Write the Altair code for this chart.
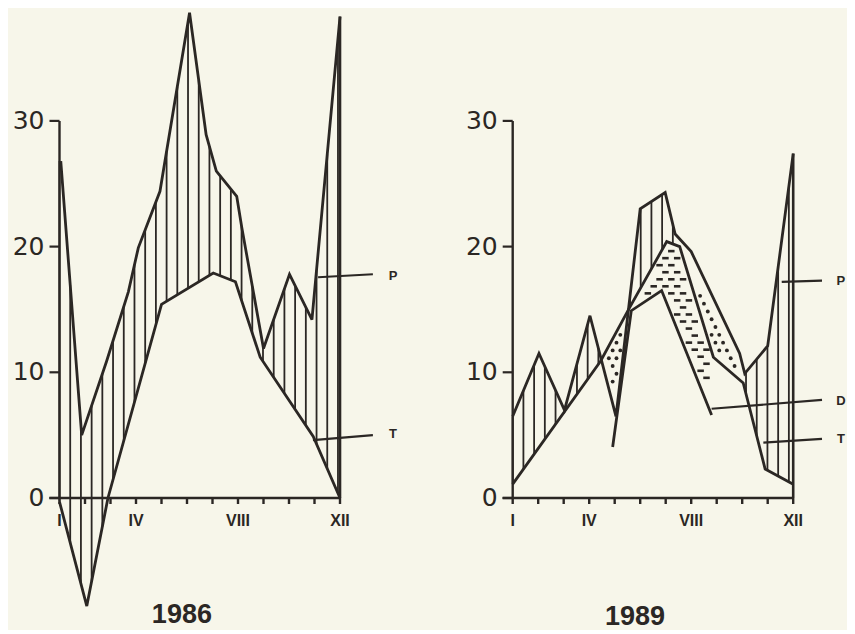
import altair as alt
import numpy as np
import pandas as pd

# ---------------- data ----------------
MONTHS = list(range(1, 13))
MONTH_TEXT = ["I", "IV", "VIII", "XII"]
MONTH_TEXT_AT = [1, 4, 8, 12]
Y_TICKS = [0, 10, 20, 30]
Y_TICK_TEXT = ["0", "10", "20", "30"]

# 1986
P86_M = [1.05, 1.87, 2.85, 3.7, 4.09, 4.94, 6.1, 6.75, 7.15, 7.95, 8.15, 9.0, 10.02, 10.9, 12.0]
P86_V = [26.8, 5.0, 10.9, 16.4, 19.9, 24.4, 38.6, 28.9, 26.0, 24.0, 21.5, 11.9, 17.8, 14.2, 38.3]
T86_M = [1.0, 2.07, 2.9, 5.0, 7.03, 7.9, 8.87, 10.95, 12.0]
T86_V = [-0.3, -8.6, 0.0, 15.4, 17.9, 17.2, 11.2, 4.9, 0.0]

# 1989
P89_M = [1.0, 2.03, 3.03, 4.03, 5.05, 6.0, 6.98, 7.37, 8.0, 9.9, 10.1, 11.0, 12.0]
P89_V = [6.5, 11.5, 7.0, 14.5, 6.5, 23.0, 24.3, 21.0, 19.6, 11.5, 9.9, 12.1, 27.4]
T89_M = [1.0, 4.45, 5.6, 7.04, 7.55, 8.87, 10.04, 10.9, 12.0]
T89_V = [1.1, 10.9, 15.2, 20.4, 20.0, 11.2, 9.15, 2.3, 1.1]
D89_M = [4.92, 5.65, 6.84, 8.8]
D89_V = [4.06, 14.9, 16.5, 6.6]

TITLES = ["1986", "1989"]

# leader lines (x, y, x2, y2) and their letters
LEAD86 = [(11.14, 17.56, 13.29, 17.8), (10.94, 4.6, 13.29, 5.0)]
TAG86 = [("P", 14.08, 17.7), ("T", 14.08, 5.1)]
LEAD89 = [(11.55, 17.2, 13.13, 17.3), (8.8, 7.1, 13.13, 7.8), (10.83, 4.4, 13.13, 4.7)]
TAG89 = [("P", 13.87, 17.3), ("D", 13.87, 7.75), ("T", 13.87, 4.7)]

# ---------------- style ----------------
INK = "#2b2724"
BG = "#f7f6ea"
PXM = 25.5      # pixels per month
PXV = 12.57     # pixels per unit
H = 618
Y_HI = 489 / PXV
Y_LO = Y_HI - H / PXV


def interp(m, v):
    return lambda x: float(np.interp(x, m, v))


def hatch_df(ranges, fa, fb, step):
    rows = []
    for a, b in ranges:
        for x in np.arange(a, b + 1e-6, step):
            u, w = fa(x), fb(x)
            rows.append({"m": x, "lo": min(u, w), "hi": max(u, w)})
    return pd.DataFrame(rows, columns=["m", "lo", "hi"])


def texture_df(ranges, lo_f, hi_f, dx, dy, mx, my):
    rows = []
    for a, b in ranges:
        ys = np.arange(-5, 40, dy)
        for j, y in enumerate(ys):
            off = dx / 2 if j % 2 else 0.0
            for x in np.arange(a + off, b, dx):
                ok = True
                for xx in (x - mx, x, x + mx):
                    if not (lo_f(xx) + my < y < hi_f(xx) - my):
                        ok = False
                        break
                if ok:
                    rows.append({"m": x, "v": y})
    return pd.DataFrame(rows, columns=["m", "v"])


def line_df(m, v):
    return pd.DataFrame({"m": m, "v": v, "i": list(range(len(m)))})


def panel(P, T, D, hatch_ranges, dot_ranges, dash_ranges, leads, tags,
          title, title_m, title_v, width, x0):
    xs = alt.Scale(domain=[x0, x0 + width / PXM], nice=False, zero=False)
    ys = alt.Scale(domain=[Y_LO, Y_HI], nice=False, zero=False)
    X = lambda f: alt.X(f"{f}:Q", scale=xs, axis=None)
    Y = lambda f: alt.Y(f"{f}:Q", scale=ys, axis=None)

    fP, fT = interp(*P), interp(*T)
    layers = []

    # vertical hatching between P and T
    hd = hatch_df(hatch_ranges, fP, fT, 0.42)
    layers.append(alt.Chart(hd).mark_rule(color=INK, strokeWidth=1.8).encode(
        x=X("m"), y=Y("lo"), y2="hi"))

    # dotted band
    if dot_ranges:
        lo_f = lambda x: min(fP(x), fT(x))
        hi_f = lambda x: max(fP(x), fT(x))
        dd = texture_df(dot_ranges, lo_f, hi_f, 0.3, 0.62, 0.1, 0.42)
        layers.append(alt.Chart(dd).mark_circle(color=INK, size=15, opacity=1).encode(
            x=X("m"), y=Y("v")))

    # dashed band
    if D is not None:
        fD = interp(*D)
        top_f = lambda x: min(fP(x), fT(x))
        sd = texture_df(dash_ranges, fD, top_f, 0.46, 0.56, 0.13, 0.33)
        layers.append(alt.Chart(sd).mark_point(
            shape="M-1,0L1,0", size=42, strokeWidth=2.6, color=INK, opacity=1,
            filled=False).encode(x=X("m"), y=Y("v")))

    # axes
    ax = pd.DataFrame({"x": [1, 0.6], "x2": [1, 12], "y": [0, 0], "y2": [30, 0]})
    layers.append(alt.Chart(ax).mark_rule(color=INK, strokeWidth=2.4).encode(
        x=X("x"), x2="x2", y=Y("y"), y2="y2"))
    yt = pd.DataFrame({"v": Y_TICKS, "t": Y_TICK_TEXT})
    yt["x"] = 1 - 10 / PXM
    yt["x2"] = 1
    layers.append(alt.Chart(yt).mark_rule(color=INK, strokeWidth=2.2).encode(
        x=X("x"), x2="x2", y=Y("v")))
    layers.append(alt.Chart(yt).mark_text(
        color=INK, font="DejaVu Sans", fontSize=25, align="right",
        baseline="middle", dx=-15).encode(x=alt.X("x2:Q", scale=xs, axis=None),
                                          y=Y("v"), text="t:N"))
    xt = pd.DataFrame({"m": MONTHS, "v": 0.0, "v2": -6 / PXV})
    layers.append(alt.Chart(xt).mark_rule(color=INK, strokeWidth=2.4).encode(
        x=X("m"), y=Y("v"), y2="v2"))
    xl = pd.DataFrame({"m": MONTH_TEXT_AT, "t": MONTH_TEXT, "v": -23 / PXV})
    layers.append(alt.Chart(xl).mark_text(
        color=INK, font="Liberation Sans", fontWeight="bold", fontSize=16,
        align="center", baseline="middle").encode(x=X("m"), y=Y("v"), text="t:N"))

    # closing vertical at December
    cv = pd.DataFrame({"m": [12.0], "lo": [0.0], "hi": [P[1][-1]]})
    layers.append(alt.Chart(cv).mark_rule(color=INK, strokeWidth=2.6).encode(
        x=X("m"), y=Y("lo"), y2="hi"))

    # curves
    curves = [P, T] + ([D] if D is not None else [])
    for m, v in curves:
        layers.append(alt.Chart(line_df(m, v)).mark_line(
            color=INK, strokeWidth=2.8, strokeJoin="miter", strokeMiterLimit=3).encode(
            x=X("m"), y=Y("v"), order="i:Q"))

    # leader lines + letters
    ld = pd.DataFrame(leads, columns=["x", "y", "x2", "y2"])
    layers.append(alt.Chart(ld).mark_rule(color=INK, strokeWidth=2.2).encode(
        x=X("x"), x2="x2", y=Y("y"), y2="y2"))
    td = pd.DataFrame(tags, columns=["t", "m", "v"])
    layers.append(alt.Chart(td).mark_text(
        color=INK, font="Liberation Sans", fontWeight="bold", fontSize=13,
        align="center", baseline="middle").encode(x=X("m"), y=Y("v"), text="t:N"))

    # year title
    tt = pd.DataFrame({"t": [title], "m": [title_m], "v": [title_v]})
    layers.append(alt.Chart(tt).mark_text(
        color=INK, font="Liberation Sans", fontWeight="bold", fontSize=27,
        align="center", baseline="middle").encode(x=X("m"), y=Y("v"), text="t:N"))

    return alt.layer(*layers).properties(width=width, height=H)


W1, W2 = 440, 399
left = panel((P86_M, P86_V), (T86_M, T86_V), None,
             [(1.0, 11.95)], [], [], LEAD86, TAG86,
             TITLES[0], 5.8, -9.3, W1, 1 - 51.5 / PXM)
right = panel((P89_M, P89_V), (T89_M, T89_V), (D89_M, D89_V),
              [(1.0, 4.4), (5.6, 7.45), (10.15, 11.95)],
              [(4.47, 5.53), (7.45, 10.12)], [(4.92, 8.8)],
              LEAD89, TAG89, TITLES[1], 5.8, -9.45, W2, 1 - 64.7 / PXM)

chart = alt.hconcat(left, right, spacing=0).resolve_scale(
    x="independent", y="independent").properties(
    padding=0, background=BG).configure_view(strokeWidth=0)

chart.save("out.html", embed_options={"renderer": "svg", "actions": False})
